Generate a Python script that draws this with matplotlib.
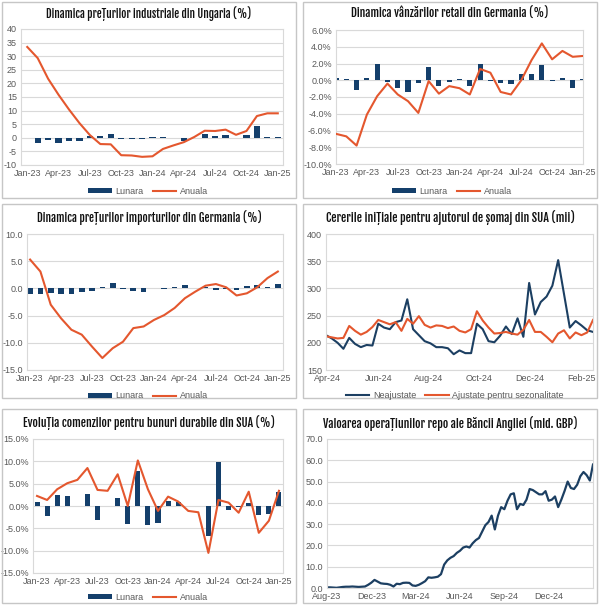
import matplotlib
matplotlib.use('Agg')
import matplotlib.pyplot as plt
import matplotlib.dates as mdates
from matplotlib import font_manager
from matplotlib.font_manager import FontProperties
from matplotlib.patches import Rectangle
from matplotlib.ticker import FuncFormatter, MultipleLocator
import pandas as pd

# ---- date axes ----
months = pd.date_range('2023-01-01', periods=25, freq='MS')
claims_weeks = pd.date_range('2024-03-30', periods=47, freq='7D')
repo_weeks = pd.date_range('2023-08-28', periods=85, freq='7D')

# ---- Ungaria, preturi industriale ----
hu_lunara = [0.1, -2.0, -0.8, -1.8, -1.3, -1.2, 0.8, 0.6, 1.5, -0.3, -0.4, -0.4, 0.2,
             0.3, 0.1, -1.0, -0.1, 1.4, 0.7, 1.2, -0.2, 1.0, 4.4, 0.2, 0.2]
hu_anuala = [33.4, 29.3, 21.7, 15.8, 10.4, 5.4, 1.0, -2.3, -2.4, -6.4, -6.5, -7.0, -6.8,
             -4.1, -2.8, -1.6, 0.3, 2.6, 2.5, 3.0, 1.1, 2.5, 8.0, 9.0, 9.0]

# ---- Germania, vanzari retail ----
de_ret_lunara = [0.3, 0.1, -1.2, 0.3, 1.9, -0.2, -0.9, -1.4, -0.3, 1.6, -0.7, -0.2, 0.1,
                 -0.7, 1.9, -0.1, -0.3, -0.5, 0.8, 0.8, 1.8, -0.1, 0.3, -0.9, 0.1]
de_ret_anuala = [-6.4, -6.7, -7.8, -4.1, -1.9, -0.4, -1.7, -2.5, -3.9, -0.1, -1.6, -0.7, -0.95,
                 -1.7, 1.35, 0.9, -1.4, -1.7, 0.0, 2.4, 4.4, 2.5, 3.5, 2.8, 2.9]

# ---- Germania, preturi importuri ----
de_imp_lunara = [-1.0, -1.1, -0.8, -1.1, -1.1, -0.6, -0.5, 0.3, 1.0, -0.05, -0.4, -0.7, 0.0,
                 -0.1, 0.3, 0.6, 0.0, 0.3, -0.3, -0.2, -0.3, 0.5, 0.7, 0.3, 0.9]
de_imp_anuala = [5.3, 3.1, -3.0, -5.5, -7.6, -8.5, -10.7, -12.8, -11.0, -9.8, -7.3, -7.0, -5.8,
                 -4.9, -3.6, -1.8, -0.6, 0.5, 0.8, 0.2, -1.3, -0.9, 0.2, 1.9, 3.1]

# ---- SUA, cereri initiale somaj (mii) ----
claims_nsa = [214, 208, 200, 189, 209, 198, 192, 196, 195, 235, 228, 225, 238, 241, 280, 225,
              214, 203, 199, 192, 192, 190, 179, 186, 181, 181, 235, 225, 203, 201, 213, 230,
              216, 245, 211, 310, 252, 275, 285, 305, 352, 290, 228, 240, 232, 223, 220]
claims_sa = [212, 210, 208, 209, 231, 222, 215, 220, 229, 242, 238, 234, 238, 222, 244, 235,
             249, 233, 228, 232, 231, 227, 230, 222, 219, 225, 258, 241, 228, 217, 218, 220,
             217, 215, 224, 242, 220, 220, 211, 201, 217, 223, 208, 219, 214, 219, 242]

# ---- SUA, comenzi bunuri durabile ----
us_dg_lunara = [0.8, -2.3, 2.4, 2.2, 0.1, 2.6, -3.1, -0.1, 1.9, -4.0, 7.8, -4.3, -3.7,
                1.2, 0.8, 0.1, 0.1, -6.7, 9.8, -0.8, -0.2, 0.7, -2.0, -1.8, 3.1]
us_dg_anuala = [2.25, 1.35, 3.75, 5.1, 5.85, 8.5, 3.6, 3.4, 7.1, 0.0, 10.2, 3.75, -1.1,
                2.1, 1.0, -1.1, -1.4, -10.5, 1.35, 0.75, -1.5, 3.2, -6.0, -3.3, 3.4]

# ---- Banca Angliei, repo (mld. GBP) ----
boe_repo = [0.3, 0.3, 0.2, 0.1, 0.3, 0.5, 0.6, 0.6, 0.7, 0.6, 0.5, 0.6, 0.7, 1.5, 2.5, 3.8,
            3.0, 2.2, 2.0, 1.9, 1.5, 0.7, 2.0, 1.8, 2.4, 2.5, 2.4, 1.2, 1.0, 1.5, 2.3, 3.2,
            5.0, 4.8, 5.0, 5.3, 6.5, 11.0, 13.0, 14.2, 15.0, 16.5, 17.5, 19.0, 19.5, 19.0,
            21.0, 22.5, 23.5, 26.5, 29.5, 31.0, 34.0, 27.5, 34.0, 38.0, 37.0, 41.0, 44.0,
            44.5, 37.0, 39.5, 39.0, 41.5, 46.5, 46.0, 45.0, 44.0, 44.0, 45.5, 41.0, 41.5,
            43.0, 38.0, 41.5, 45.5, 50.0, 47.0, 46.5, 48.5, 52.5, 54.5, 53.0, 50.5, 58.0]

NAVY = '#143f6b'
ORANGE = '#e4572e'
LINE_BLUE = '#1c3f62'
GRID = '#d9d9d9'
TICK = '#595959'

# a heavy condensed face for the titles, whichever is installed
wanted = [('Oswald', 600), ('Fjalla One', 400), ('Roboto Condensed', 600),
          ('Archivo Narrow', 600), ('PT Sans Narrow', 600), ('Oswald', 400)]
title_file = None
for name, min_w in wanted:
    hits = [f for f in font_manager.fontManager.ttflist
            if f.name == name and f.style == 'normal' and int(f.weight) >= min_w]
    if hits:
        title_file = sorted(hits, key=lambda f: abs(int(f.weight) - 700))[0].fname
        break

plt.rcParams['font.family'] = ['Liberation Sans', 'DejaVu Sans']

W, H = 600, 605
fig = plt.figure(figsize=(W / 100, H / 100), dpi=100)
renderer = fig.canvas.get_renderer()


def px_axes(left, top, right, bottom):
    return fig.add_axes([left / W, 1 - bottom / H, (right - left) / W, (bottom - top) / H])


def panel(left, top, right, bottom, title, ty, width):
    fig.patches.append(Rectangle((left / W, 1 - bottom / H), (right - left) / W,
                                 (bottom - top) / H, transform=fig.transFigure,
                                 fill=False, edgecolor='#c6c6c6', linewidth=1))
    if title_file:
        fp = FontProperties(fname=title_file, size=10.5)
    else:
        fp = FontProperties(family='DejaVu Sans', weight='bold', size=10.5)
    t = fig.text((left + right) / 2 / W, 1 - ty / H, title, ha='center', va='center',
                 fontproperties=fp, color='#111111')
    w = t.get_window_extent(renderer).width
    t.set_fontsize(max(7.5, min(12.5, 10.5 * width / w)))


def style(ax, ylo, yhi, step, fmt):
    ax.set_ylim(ylo, yhi)
    ax.yaxis.set_major_locator(MultipleLocator(step))
    ax.yaxis.set_major_formatter(FuncFormatter(lambda v, p: fmt.format(v)))
    ax.grid(axis='y', color=GRID, linewidth=0.8)
    ax.set_axisbelow(True)
    for s in ax.spines.values():
        s.set_color(GRID)
        s.set_linewidth(0.8)
    ax.tick_params(labelsize=6.5, colors=TICK, length=0, pad=3)


def month_axis(ax, lo, hi):
    idx = list(range(len(months)))
    ax.set_xlim(lo, hi)
    ax.set_xticks(idx[::3])
    ax.set_xticklabels([d.strftime('%b-%y') for d in months[::3]])


def bar_line(ax, lunara, anuala, width, leg_y, leg_x):
    idx = list(range(len(months)))
    b = ax.bar(idx, lunara, width=width, color=NAVY, label='Lunara', zorder=2)
    l, = ax.plot(idx, anuala, color=ORANGE, linewidth=1.5, label='Anuala', zorder=3)
    fig.legend([b, l], ['Lunara', 'Anuala'], loc='center', ncol=2, frameon=False,
               bbox_to_anchor=(leg_x / W, 1 - leg_y / H), fontsize=6.5,
               handlelength=2.6, handleheight=0.45, columnspacing=1.0, handletextpad=0.4,
               labelcolor=TICK)


# panel 1
panel(2, 2, 296, 198, 'Dinamica prețurilor industriale din Ungaria (%)', 14, 207)
ax1 = px_axes(21, 29, 283, 165)
style(ax1, -10, 40, 5, '{:.0f}')
bar_line(ax1, hu_lunara, hu_anuala, 0.6, 191, 148)
month_axis(ax1, -0.6, 24.5)

# panel 2
panel(303, 2, 597, 198, 'Dinamica vânzărilor retail din Germania (%)', 14, 198)
ax2 = px_axes(336, 30, 583, 164)
style(ax2, -10, 6, 2, '{:.1f}%')
bar_line(ax2, de_ret_lunara, de_ret_anuala, 0.5, 191, 452)
month_axis(ax2, 0, 24)

# panel 3
panel(2, 204, 296, 398, 'Dinamica prețurilor importurilor din Germania (%)', 218, 226)
ax3 = px_axes(27, 234, 283, 370)
style(ax3, -15, 10, 5, '{:.1f}')
bar_line(ax3, de_imp_lunara, de_imp_anuala, 0.55, 396, 148)
month_axis(ax3, -0.3, 24.5)

# panel 4
panel(303, 204, 597, 398, 'Cererile inițiale pentru ajutorul de șomaj din SUA (mii)', 218, 250)
ax4 = px_axes(326, 234, 593, 370)
style(ax4, 150, 400, 50, '{:.0f}')
ln1, = ax4.plot(claims_weeks, claims_nsa, color=LINE_BLUE, linewidth=1.5)
ln2, = ax4.plot(claims_weeks, claims_sa, color=ORANGE, linewidth=1.5)
ax4.set_xlim(claims_weeks[0], claims_weeks[-1])
ax4.xaxis.set_major_locator(mdates.MonthLocator(bymonth=[2, 4, 6, 8, 10, 12]))
ax4.xaxis.set_major_formatter(mdates.DateFormatter('%b-%y'))
fig.legend([ln1, ln2], ['Neajustate', 'Ajustate pentru sezonalitate'], loc='center',
           ncol=2, frameon=False, bbox_to_anchor=(455 / W, 1 - 396 / H), fontsize=6.5,
           handlelength=2.6, columnspacing=1.0, handletextpad=0.4, labelcolor=TICK)

# panel 5
panel(2, 409, 296, 603, 'Evoluția comenzilor pentru bunuri durabile din SUA (%)', 423, 253)
ax5 = px_axes(33, 439, 283, 573)
style(ax5, -15, 15, 5, '{:.1f}%')
bar_line(ax5, us_dg_lunara, us_dg_anuala, 0.5, 597, 148)
month_axis(ax5, -0.4, 24.4)

# panel 6
panel(303, 409, 597, 603, 'Valoarea operațiunilor repo ale Băncii Angliei (mld. GBP)', 424, 256)
ax6 = px_axes(327, 439, 593, 588)
style(ax6, 0, 70, 10, '{:.1f}')
ax6.plot(repo_weeks, boe_repo, color=LINE_BLUE, linewidth=1.6)
ax6.set_xlim(repo_weeks[0], repo_weeks[-1])
ax6.set_xticks(repo_weeks[:71:14])
ax6.set_xticklabels([d.strftime('%b-%y') for d in repo_weeks[:71:14]])

fig.savefig('out.png', dpi=100)
